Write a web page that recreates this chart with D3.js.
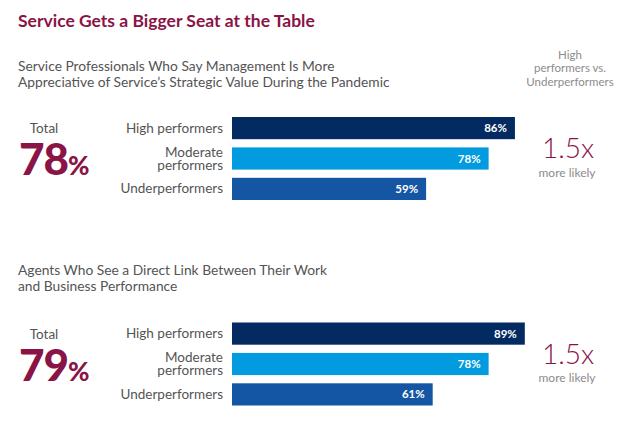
<!DOCTYPE html>
<html>
<head>
<meta charset="utf-8">
<script src="https://cdn.jsdelivr.net/npm/d3@7"></script>
<style>
  body { margin: 0; background: #fff; }
  svg { font-family: Lato, "Open Sans", sans-serif; display: block; }
</style>
</head>
<body>
<svg></svg>
<script>
let width = 632, height = 431;
let svg = d3.select("svg")
    .attr("width", width)
    .attr("height", height);

// Data
const title = "Service Gets a Bigger Seat at the Table";
const categories = ["High performers", "Moderate performers", "Underperformers"];
const subtitles = [
  ["Service Professionals Who Say Management Is More", "Appreciative of Service\u2019s Strategic Value During the Pandemic"],
  ["Agents Who See a Direct Link Between Their Work", "and Business Performance"]
];
const totals = [78, 79];
const seriesValues = [[86, 78, 59], [89, 78, 61]];
const ratios = ["1.5x", "1.5x"];
const ratioHeader = ["High", "performers vs.", "Underperformers"];

const maroon = "#8a1446";
const barColors = ["#032b62", "#039be0", "#1556a4"];

// scales
const x = d3.scaleLinear().domain([0, 100]).range([232, 561]);
const y = d3.scaleBand().domain(categories).range([117, 200]).paddingInner(0.27);
const color = d3.scaleOrdinal().domain(categories).range(barColors);

// title
svg.append("text")
    .attr("x", 18).attr("y", 27)
    .text(title)
    .style("font-size", "17.5px")
    .style("font-weight", 700)
    .style("fill", maroon);

// header on the right
svg.append("g").selectAll("text")
    .data(ratioHeader)
    .enter().append("text")
      .attr("x", 570)
      .attr("y", (d, i) => 59 + i * 13.3)
      .attr("text-anchor", "middle")
      .style("font-size", "11.5px")
      .style("fill", "#8c8c8c")
      .text(d => d);

seriesValues.forEach(function(vals, p) {
  let g = svg.append("g").attr("transform", "translate(0," + (p * 205.5) + ")");

  // subtitle
  g.selectAll(".sub")
    .data(subtitles[p])
    .enter().append("text")
      .attr("class", "sub")
      .attr("x", 18)
      .attr("y", (d, i) => 71 + i * 15.5 - p * 1.5)
      .style("font-size", "13.8px")
      .style("fill", "#545454")
      .text(d => d);

  // total
  g.append("text")
      .attr("x", 44).attr("y", 133)
      .attr("text-anchor", "middle")
      .style("font-size", "13.5px")
      .style("fill", "#545454")
      .text("Total");

  let big = g.append("text")
      .attr("x", 19).attr("y", 175)
      .style("fill", maroon)
      .style("font-weight", 900);
  big.append("tspan")
      .style("font-size", "44px")
      .style("letter-spacing", "-1px")
      .text(totals[p]);
  big.append("tspan")
      .style("font-size", "26px")
      .text("%");

  // category labels
  g.selectAll(".cat")
    .data(categories)
    .enter().append("text")
      .attr("class", "cat")
      .attr("x", 223)
      .attr("text-anchor", "end")
      .style("font-size", "13.5px")
      .style("fill", "#545454")
      .each(function(d) {
        let words = d === "Moderate performers" ? ["Moderate", "performers"] : [d];
        let cy = y(d) + y.bandwidth() / 2;
        let t = d3.select(this);
        words.forEach(function(w, i) {
          t.append("tspan")
            .attr("x", 223)
            .attr("y", cy + 4.5 + (i - (words.length - 1) / 2) * 13)
            .text(w);
        });
      });

  // bars
  g.selectAll(".bar")
    .data(vals)
    .enter().append("rect")
      .attr("class", "bar")
      .attr("x", x(0))
      .attr("y", (d, i) => y(categories[i]))
      .attr("width", d => x(d) - x(0))
      .attr("height", y.bandwidth())
      .attr("fill", (d, i) => color(categories[i]));

  g.selectAll(".val")
    .data(vals)
    .enter().append("text")
      .attr("class", "val")
      .attr("x", d => x(d) - 8)
      .attr("y", (d, i) => y(categories[i]) + y.bandwidth() / 2 + 4)
      .attr("text-anchor", "end")
      .style("font-size", "11.5px")
      .style("font-weight", 700)
      .style("fill", "#fff")
      .text(d => d + "%");

  // ratio
  g.append("text")
      .attr("x", 568).attr("y", 158)
      .attr("text-anchor", "middle")
      .style("font-size", "28px")
      .style("font-weight", 300)
      .style("fill", maroon)
      .text(ratios[p]);

  g.append("text")
      .attr("x", 567).attr("y", 176.5)
      .attr("text-anchor", "middle")
      .style("font-size", "12px")
      .style("fill", "#8c8c8c")
      .text("more likely");
});
</script>
</body>
</html>
